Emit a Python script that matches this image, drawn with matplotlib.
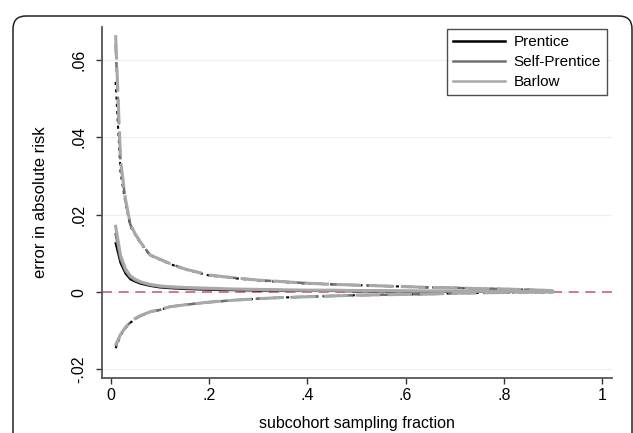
import matplotlib.pyplot as plt
from matplotlib.patches import FancyBboxPatch

plt.rcParams['font.family'] = ['Liberation Sans', 'DejaVu Sans']

# sampling fractions
frac = [0.01, 0.02, 0.03, 0.04, 0.05, 0.06, 0.08, 0.10, 0.12, 0.15, 0.20, 0.25,
        0.30, 0.35, 0.40, 0.45, 0.50, 0.55, 0.60, 0.65, 0.70, 0.75, 0.80, 0.85, 0.90]

# mean error
prentice_mid = [0.0126, 0.0075, 0.0048, 0.0033, 0.0027, 0.0022, 0.0016, 0.0012, 0.0010,
                0.0008, 0.0006, 0.0005, 0.0004, 0.0004, 0.0003, 0.0003, 0.0002, 0.0002,
                0.0002, 0.0001, 0.0001, 0.0001, 0.0001, 0.0000, 0.0000]
self_mid = [0.0150, 0.0085, 0.0054, 0.0038, 0.0030, 0.0025, 0.0018, 0.0014, 0.0012,
            0.0010, 0.0008, 0.0007, 0.0006, 0.0005, 0.0004, 0.0004, 0.0003, 0.0003,
            0.0003, 0.0002, 0.0002, 0.0002, 0.0001, 0.0001, 0.0001]
barlow_mid = [0.0170, 0.0095, 0.0060, 0.0042, 0.0033, 0.0027, 0.0020, 0.0016, 0.0014,
              0.0012, 0.0010, 0.0008, 0.0007, 0.0006, 0.0005, 0.0005, 0.0004, 0.0004,
              0.0003, 0.0003, 0.0003, 0.0002, 0.0002, 0.0002, 0.0001]

# upper limits
prentice_hi = [0.0543, 0.0310, 0.0230, 0.0170, 0.0148, 0.0128, 0.0095, 0.0084, 0.0073,
               0.0059, 0.0043, 0.0036, 0.0030, 0.0026, 0.0022, 0.0020, 0.0018, 0.0016,
               0.0014, 0.0012, 0.0011, 0.0009, 0.0008, 0.0006, 0.0004]
self_hi = [0.0640, 0.0335, 0.0237, 0.0174, 0.0150, 0.0130, 0.0096, 0.0085, 0.0074,
           0.0060, 0.0044, 0.0037, 0.0031, 0.0027, 0.0023, 0.0020, 0.0018, 0.0016,
           0.0014, 0.0012, 0.0011, 0.0009, 0.0008, 0.0006, 0.0004]
barlow_hi = [0.0664, 0.0340, 0.0240, 0.0175, 0.0150, 0.0130, 0.0096, 0.0085, 0.0074,
             0.0060, 0.0044, 0.0037, 0.0031, 0.0027, 0.0023, 0.0020, 0.0018, 0.0016,
             0.0014, 0.0012, 0.0011, 0.0009, 0.0008, 0.0006, 0.0004]

# lower limits
prentice_lo = [-0.0145, -0.0112, -0.0093, -0.0079, -0.0069, -0.0062, -0.0051, -0.0046,
               -0.0038, -0.0033, -0.0026, -0.0021, -0.0017, -0.0014, -0.0012, -0.0010,
               -0.0008, -0.0007, -0.0006, -0.0005, -0.0003, -0.0002, -0.0001, 0.0000, 0.0000]
self_lo = [-0.0140, -0.0110, -0.0092, -0.0078, -0.0068, -0.0062, -0.0051, -0.0046,
           -0.0038, -0.0033, -0.0026, -0.0021, -0.0017, -0.0014, -0.0012, -0.0010,
           -0.0008, -0.0007, -0.0006, -0.0005, -0.0003, -0.0002, -0.0001, 0.0000, 0.0000]
barlow_lo = [-0.0137, -0.0109, -0.0091, -0.0077, -0.0068, -0.0061, -0.0051, -0.0045,
             -0.0038, -0.0033, -0.0026, -0.0021, -0.0017, -0.0014, -0.0012, -0.0010,
             -0.0008, -0.0007, -0.0006, -0.0005, -0.0003, -0.0002, -0.0001, 0.0000, 0.0000]

xticks = [0, 0.2, 0.4, 0.6, 0.8, 1.0]
xtick_labels = ['0', '.2', '.4', '.6', '.8', '1']
yticks = [-0.02, 0, 0.02, 0.04, 0.06]
ytick_labels = ['-.02', '0', '.02', '.04', '.06']

fig = plt.figure(figsize=(6.33, 4.33), dpi=100)
ax = fig.add_axes([0.1607, 0.127, 0.806, 0.8106])

# stata-like rounded outer frame
frame = FancyBboxPatch((0.13, -0.5), 6.19, 4.67,
                       boxstyle='round,pad=0,rounding_size=0.13',
                       transform=fig.dpi_scale_trans, facecolor='none',
                       edgecolor='#222222', linewidth=1.1, zorder=0)
fig.patches.append(frame)

ax.set_xlim(-0.0183, 1.02)
ax.set_ylim(-0.0222, 0.0685)

for y in yticks:
    ax.axhline(y, color='#E8F0F1', linewidth=0.9, zorder=0)
ax.axhline(0, color='#D4607B', linewidth=1.2, dashes=(6, 4), zorder=1)

# drawn bottom to top: black first, light gray on top
styles = [
    ('Prentice', prentice_mid, prentice_hi, prentice_lo, '#000000', 1.5, (1.5, 2)),
    ('Self-Prentice', self_mid, self_hi, self_lo, '#707070', 1.8, (4, 3)),
    ('Barlow', barlow_mid, barlow_hi, barlow_lo, '#A8A8A8', 2.2, (8, 2.5)),
]
handles = {}
for k, (name, mid, hi, lo, col, lw, dash) in enumerate(styles):
    h, = ax.plot(frac, mid, color=col, linewidth=lw, zorder=3 + k)
    ax.plot(frac, hi, color=col, linewidth=lw, dashes=dash, zorder=3 + k)
    ax.plot(frac, lo, color=col, linewidth=lw, dashes=dash, zorder=3 + k)
    handles[name] = h

order = ['Prentice', 'Self-Prentice', 'Barlow']
leg = ax.legend([handles[n] for n in order], order, loc='upper right',
                bbox_to_anchor=(0.990, 0.994), fontsize=11, frameon=True,
                fancybox=False, edgecolor='#222222', handlelength=3.4,
                borderpad=0.4, labelspacing=0.38, handletextpad=0.55,
                borderaxespad=0.0)
leg.get_frame().set_linewidth(1.0)
for line in leg.get_lines():
    line.set_linewidth(1.8)

ax.set_xticks(xticks)
ax.set_xticklabels(xtick_labels)
ax.set_yticks(yticks)
ax.set_yticklabels(ytick_labels, rotation=90, va='center')
ax.tick_params(direction='out', length=4, width=1, colors='#333333',
               labelsize=11.5, labelcolor='black')
ax.tick_params(axis='y', pad=7)

ax.spines[['top', 'right']].set_visible(False)
for s in ['left', 'bottom']:
    ax.spines[s].set_color('#555555')
    ax.spines[s].set_linewidth(1.3)

ax.set_xlabel('subcohort sampling fraction', fontsize=11.5, labelpad=9)
ax.set_ylabel('error in absolute risk', fontsize=12, labelpad=17)

fig.savefig('out.png', dpi=100)
